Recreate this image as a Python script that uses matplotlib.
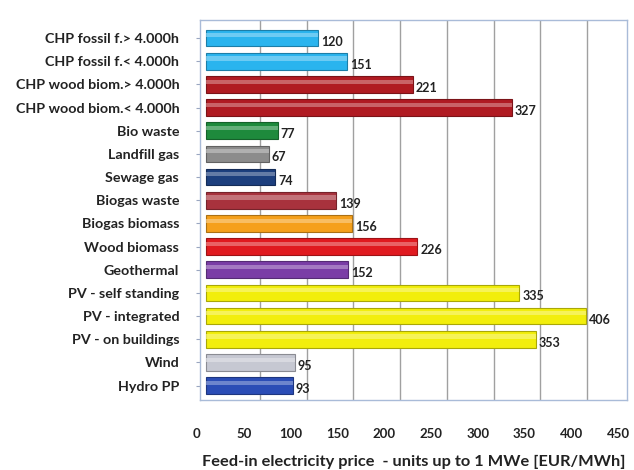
import matplotlib
matplotlib.use("Agg")
import matplotlib.pyplot as plt
from matplotlib.transforms import ScaledTranslation
import numpy as np

categories = ["CHP fossil f.> 4.000h", "CHP fossil f.< 4.000h", "CHP wood biom.> 4.000h",
              "CHP wood biom.< 4.000h", "Bio waste", "Landfill gas", "Sewage gas",
              "Biogas waste", "Biogas biomass", "Wood biomass", "Geothermal",
              "PV - self standing", "PV - integrated", "PV - on buildings", "Wind", "Hydro PP"]
values = [120, 151, 221, 327, 77, 67, 74, 139, 156, 226, 152, 335, 406, 353, 95, 93]
colors = ["#2AB4EE", "#2AB4EE", "#B01B22", "#B01B22", "#1E8A3C", "#8C8C8C", "#1D3F7E",
          "#A8323D", "#F5A01C", "#E01A20", "#7A3DA6", "#F2EE0C", "#F2EE0C", "#F2EE0C",
          "#C6C8D2", "#2B4DB6"]
xticks = [0, 50, 100, 150, 200, 250, 300, 350, 400, 450]
xlabel = "Feed-in electricity price  - units up to 1 MWe [EUR/MWh]"

plt.rcParams['font.family'] = ['Lato', 'DejaVu Sans']

def darken(c, f=0.7):
    rgb = np.array(matplotlib.colors.to_rgb(c))
    return tuple(rgb * f)

def lighten(c, f=0.45):
    rgb = np.array(matplotlib.colors.to_rgb(c))
    return tuple(rgb + (1 - rgb) * f)

W, H = 634, 470
fig = plt.figure(figsize=(W / 100, H / 100), dpi=100)
ax_l, ax_r, ax_t, ax_b = 200, 627, 20, 400
ax = fig.add_axes([ax_l / W, 1 - ax_b / H, (ax_r - ax_l) / W, (ax_b - ax_t) / H])

y = np.arange(len(categories))
ax.barh(y, values, height=0.72, color=colors, edgecolor=[darken(c) for c in colors],
        linewidth=0.8, zorder=3)
# highlight stripe for glossy look
ax.barh(y - 0.12, values, height=0.18, color=[lighten(c) for c in colors],
        linewidth=0, zorder=4, alpha=0.7)

for yi, v in zip(y, values):
    ax.text(v + 3, yi + 0.15, str(v), va='center', ha='left', fontsize=9,
            fontweight='bold', color='#222222', zorder=5)

ax.set_xlim(-6.4, 450)
ax.set_ylim(15.62, -0.78)
ax.set_xticks(xticks)
ax.set_xticklabels([str(t) for t in xticks], fontsize=9.5, fontweight='bold', color='#222222')
ax.set_yticks(y)
ax.set_yticklabels(categories, fontsize=10.3, fontweight='bold', color='#222222')
ax.tick_params(axis='x', length=0, pad=20)
ax.tick_params(axis='y', length=3, color='#9AA6C0', pad=12)

# back-wall gridlines (3D depth offset)
gshift = ScaledTranslation(7 / 100, 0, fig.dpi_scale_trans)
ax.vlines(xticks[1:-1], 0, 1, colors='#A0A0A0', linewidth=1.0, zorder=0,
          transform=ax.get_xaxis_transform() + gshift)

for s in ax.spines.values():
    s.set_color('#A9BBD8')
    s.set_linewidth(1.0)
ax.set_xlabel(xlabel, fontsize=11.8, fontweight='bold', color='#222222', labelpad=11)

# shift tick labels left (front edge of 3D floor)
shift = ScaledTranslation(-9 / 100, 0, fig.dpi_scale_trans)
for tk in ax.xaxis.get_major_ticks():
    tk.label1.set_transform(tk.label1.get_transform() + shift)

fig.savefig("out.png", dpi=100)
